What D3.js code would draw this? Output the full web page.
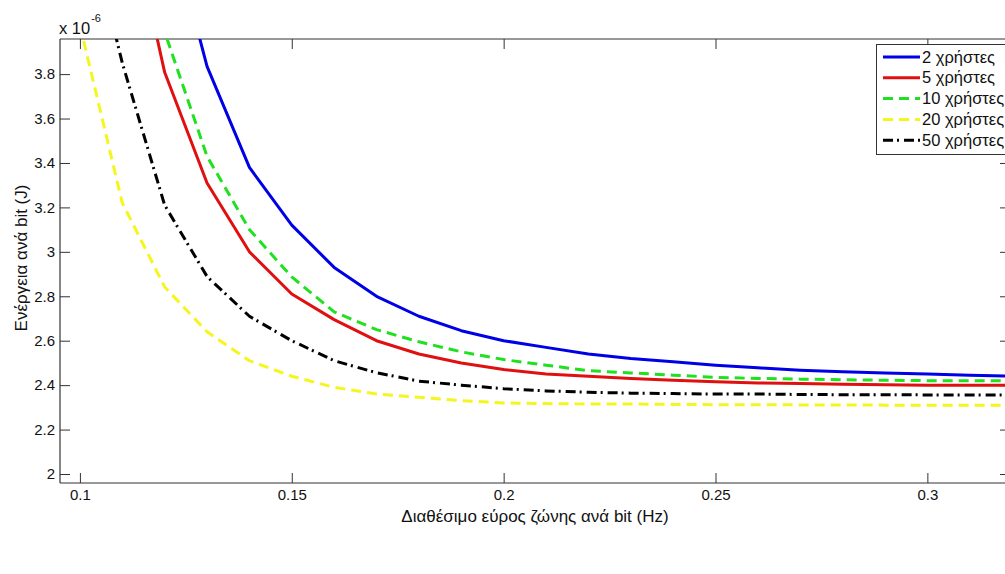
<!DOCTYPE html>
<html>
<head>
<meta charset="utf-8">
<script src="https://cdn.jsdelivr.net/npm/d3@7"></script>
<style>
  body { margin: 0; background: #fff; }
  svg { display: block; font-family: Arial, "Liberation Sans", sans-serif; }
</style>
</head>
<body>
<svg id="chart" width="1005" height="574"></svg>
<script>
// ---- data (values in units of 1e-6 J) ----
const xValues = [0.10, 0.11, 0.12, 0.13, 0.14, 0.15, 0.16, 0.17, 0.18, 0.19, 0.20, 0.21,
                 0.22, 0.23, 0.24, 0.25, 0.26, 0.27, 0.28, 0.29, 0.30, 0.31, 0.32];
const users2  = [null, null, 4.56, 3.835, 3.38, 3.12, 2.93, 2.80, 2.71, 2.645, 2.60, 2.57,
                 2.54, 2.52, 2.505, 2.49, 2.478, 2.467, 2.46, 2.455, 2.45, 2.445, 2.44];
const users5  = [null, 4.67, 3.808, 3.31, 3.0, 2.81, 2.695, 2.60, 2.54, 2.50, 2.47, 2.45,
                 2.44, 2.43, 2.422, 2.415, 2.41, 2.407, 2.404, 2.402, 2.40, 2.40, 2.40];
const users10 = [null, 4.8, 3.99, 3.43, 3.10, 2.887, 2.73, 2.65, 2.595, 2.55, 2.515, 2.49,
                 2.465, 2.455, 2.445, 2.435, 2.43, 2.427, 2.424, 2.422, 2.42, 2.42, 2.42];
const users20 = [4.02, 3.22, 2.842, 2.64, 2.51, 2.44, 2.39, 2.36, 2.345, 2.33, 2.32, 2.317,
                 2.315, 2.315, 2.313, 2.312, 2.312, 2.311, 2.311, 2.31, 2.31, 2.31, 2.31];
const users50 = [4.63, 3.85, 3.21, 2.889, 2.71, 2.60, 2.51, 2.456, 2.418, 2.40, 2.384, 2.374,
                 2.368, 2.364, 2.362, 2.36, 2.36, 2.358, 2.357, 2.357, 2.356, 2.356, 2.356];
const seriesNames = ["2 χρήστες", "5 χρήστες", "10 χρήστες", "20 χρήστες", "50 χρήστες"];
const xTicks = [0.1, 0.15, 0.2, 0.25, 0.3];
const xTickLabels = ["0.1", "0.15", "0.2", "0.25", "0.3"];
const yTicks = [2, 2.2, 2.4, 2.6, 2.8, 3, 3.2, 3.4, 3.6, 3.8];
const yTickLabels = ["2", "2.2", "2.4", "2.6", "2.8", "3", "3.2", "3.4", "3.6", "3.8"];
const xLabel = "Διαθέσιμο εύρος ζώνης ανά bit (Hz)";
const yLabel = "Ενέργεια ανά bit (J)";

// ---- styles ----
const styles = [
  { color: "#0000e6", dash: null },
  { color: "#e01010", dash: null },
  { color: "#20e020", dash: "10,6" },
  { color: "#f5f520", dash: "10,6" },
  { color: "#000000", dash: "10,4,2,5" }
];
const seriesData = [users2, users5, users10, users20, users50];

const svg = d3.select("#chart");
const L = 60, R = 1010, T = 39, B = 483;
const x = d3.scaleLinear().domain([0.0953, 0.3195]).range([L, R]);
const y = d3.scaleLinear().domain([1.9595, 3.958]).range([B, T]);
const axisColor = "#333";
const tickFont = "15px";
const labelFont = "17px";

svg.append("defs").append("clipPath").attr("id", "clip")
  .append("rect").attr("x", L).attr("y", T).attr("width", R - L).attr("height", B - T);

// axes with inward ticks
const gx = svg.append("g").attr("transform", `translate(0,${B})`)
  .call(d3.axisBottom(x).tickValues(xTicks).tickFormat((d, i) => xTickLabels[i]).tickSize(-10).tickPadding(6));
const gxTop = svg.append("g").attr("transform", `translate(0,${T})`)
  .call(d3.axisTop(x).tickValues(xTicks).tickFormat("").tickSize(-10));
const gy = svg.append("g").attr("transform", `translate(${L},0)`)
  .call(d3.axisLeft(y).tickValues(yTicks).tickFormat((d, i) => yTickLabels[i]).tickSize(-10).tickPadding(5));
const gyR = svg.append("g").attr("transform", `translate(${R},0)`)
  .call(d3.axisRight(y).tickValues(yTicks).tickFormat("").tickSize(-10));
[gx, gxTop, gy, gyR].forEach(g => {
  g.attr("font-size", null).attr("font-family", null);
  g.selectAll(".domain").attr("stroke", axisColor).attr("stroke-width", 1.2);
  g.selectAll(".tick line").attr("stroke", axisColor).attr("stroke-width", 1);
  g.selectAll(".tick text").attr("fill", "#111").style("font-size", tickFont);
});
gx.select(".domain").attr("d", `M${L},0H${R}`);
gxTop.select(".domain").attr("d", `M${L},0H${R}`);
gy.select(".domain").attr("d", `M0,${T}V${B}`);
gyR.select(".domain").attr("d", `M0,${T}V${B}`);

// lines
const line = d3.line()
  .defined(d => d[1] !== null)
  .x(d => x(d[0])).y(d => y(d[1]));
const plot = svg.append("g").attr("clip-path", "url(#clip)");
seriesData.forEach((vals, i) => {
  const pts = xValues.map((xv, j) => [xv, vals[j]]);
  plot.append("path").datum(pts)
    .attr("d", line)
    .attr("fill", "none")
    .attr("stroke", styles[i].color)
    .attr("stroke-width", 3)
    .attr("stroke-linejoin", "round")
    .attr("stroke-dasharray", styles[i].dash);
});

// exponent label
const expo = svg.append("text").attr("x", 59).attr("y", 34).style("font-size", "16.5px").attr("fill", "#111");
expo.append("tspan").text("x 10");
expo.append("tspan").attr("dy", -12).attr("dx", 1).style("font-size", "11px").text("-6");

// axis labels
svg.append("text").attr("x", (L + R) / 2).attr("y", 522).attr("text-anchor", "middle")
  .style("font-size", labelFont).attr("fill", "#111").text(xLabel);
svg.append("text").attr("transform", `translate(27,258) rotate(-90)`)
  .attr("text-anchor", "middle").style("font-size", labelFont).attr("fill", "#111").text(yLabel);

// legend
const lg = svg.append("g");
lg.append("rect").attr("x", 876.5).attr("y", 44.5).attr("width", 140).attr("height", 110)
  .attr("fill", "#fff").attr("stroke", axisColor).attr("stroke-width", 1);
seriesNames.forEach((name, i) => {
  const yy = 57 + i * 20.8;
  lg.append("line").attr("x1", 883).attr("x2", 920).attr("y1", yy).attr("y2", yy)
    .attr("stroke", styles[i].color).attr("stroke-width", 3)
    .attr("stroke-dasharray", styles[i].dash);
  lg.append("text").attr("x", 922).attr("y", yy + 5.5).style("font-size", "16.5px")
    .attr("fill", "#111").text(name);
});
</script>
</body>
</html>
